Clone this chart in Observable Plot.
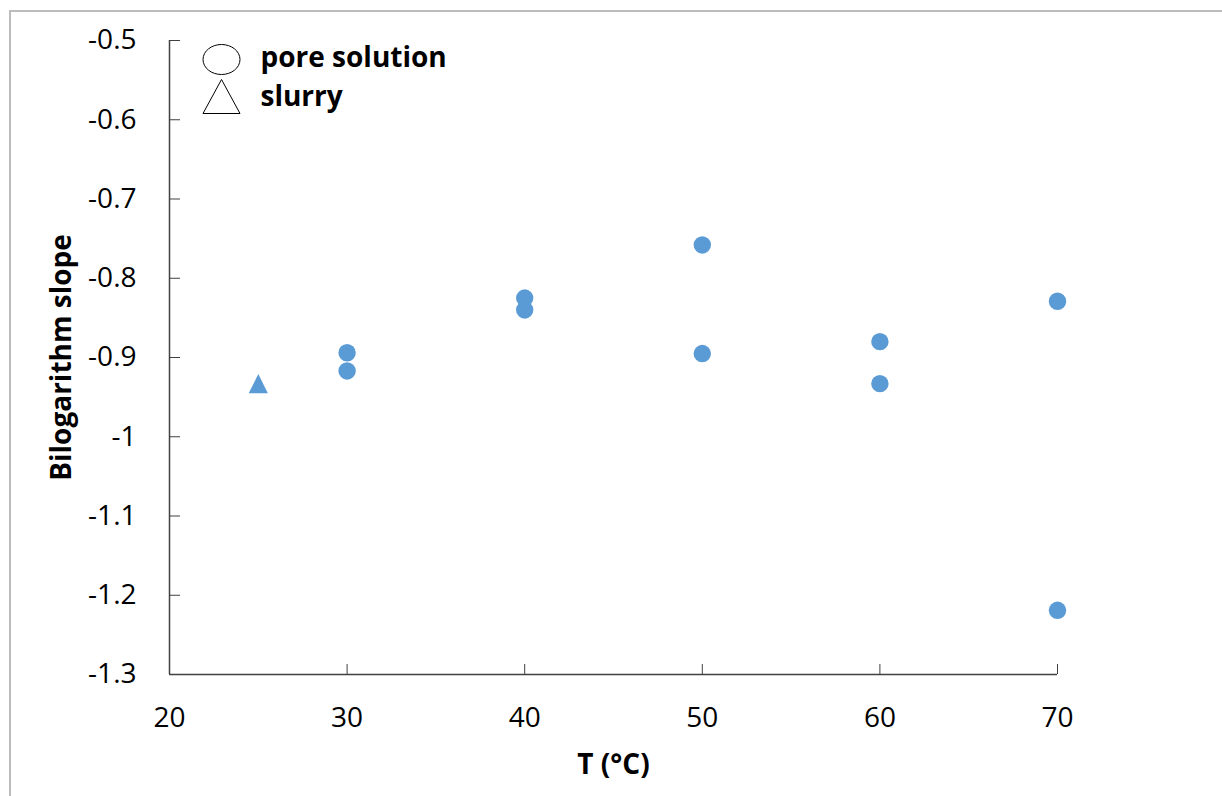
<!DOCTYPE html>
<html>
<head>
<meta charset="utf-8">
<script src="https://cdn.jsdelivr.net/npm/d3@7"></script>
<script src="https://cdn.jsdelivr.net/npm/@observablehq/plot@0.6"></script>
<style>
  html, body { margin: 0; padding: 0; background: #fff; }
  #wrap { position: relative; width: 1222px; height: 796px; overflow: hidden; }
  #border { position: absolute; left: 9px; top: 10px; width: 1300px; height: 900px;
            border: 2px solid #bcbcbc; box-sizing: border-box; pointer-events: none; }
</style>
</head>
<body>
<div id="wrap"><div id="border"></div></div>
<script>
// Temperature (°C) and bilogarithm slope of each measurement
const poreTemps = [30, 30, 40, 40, 50, 50, 60, 60, 70, 70];
const poreSlopes = [-0.894, -0.917, -0.825, -0.840, -0.758, -0.895, -0.880, -0.933, -0.829, -1.219];
const slurryTemps = [25];
const slurrySlopes = [-0.933];

// Axis ticks and text
const xTicks = [20, 30, 40, 50, 60, 70];
const yTicks = [-0.5, -0.6, -0.7, -0.8, -0.9, -1, -1.1, -1.2, -1.3];
const legendLabels = ["pore solution", "slurry"];
const xTitle = "T (°C)";
const yTitle = "Bilogarithm slope";

const pore = poreTemps.map((t, i) => ({t, s: poreSlopes[i]}));
const slurry = slurryTemps.map((t, i) => ({t, s: slurrySlopes[i]}));

// Triangle centred on its bounding box (w x h); size-driven when w is omitted
function triangle(w, h) {
  return {
    draw(ctx, size) {
      const r = Math.sqrt(size / Math.PI);
      const hw = w != null ? w / 2 : r, hh = h != null ? h / 2 : r;
      ctx.moveTo(0, -hh);
      ctx.lineTo(hw, hh);
      ctx.lineTo(-hw, hh);
      ctx.closePath();
    }
  };
}
// Ellipse built from four cubic curves
function ellipse(rx, ry) {
  const k = 0.5522847;
  return {
    draw(ctx) {
      ctx.moveTo(rx, 0);
      ctx.bezierCurveTo(rx, k * ry, k * rx, ry, 0, ry);
      ctx.bezierCurveTo(-k * rx, ry, -rx, k * ry, -rx, 0);
      ctx.bezierCurveTo(-rx, -k * ry, -k * rx, -ry, 0, -ry);
      ctx.bezierCurveTo(k * rx, -ry, rx, -k * ry, rx, 0);
      ctx.closePath();
    }
  };
}

const blue = "#5B9BD5";
const axisColor = "#404040";
const label = {text: d => d, fontWeight: "bold", fontSize: 28, lineAnchor: "middle"};

const chart = Plot.plot({
  width: 1222,
  height: 796,
  marginLeft: 169,
  marginRight: 165,
  marginTop: 40,
  marginBottom: 122,
  style: {fontFamily: "'Open Sans', sans-serif", fontSize: "28px", color: "#000", background: "transparent", overflow: "visible"},
  x: {domain: [20, 70]},
  y: {domain: [-1.3, -0.5]},
  marks: [
    Plot.axisY({ticks: yTicks, tickSize: -11, tickPadding: 44, tickFormat: d => String(d), stroke: axisColor, label: null}),
    Plot.axisX({ticks: xTicks, tickSize: -10, tickPadding: 43, tickFormat: d => String(d), stroke: axisColor, label: null}),
    Plot.ruleX([20], {y1: -1.3, y2: -0.5, stroke: axisColor, strokeWidth: 1.5}),
    Plot.ruleY([-1.3], {x1: 20, x2: 70, stroke: axisColor, strokeWidth: 1.5}),
    Plot.dot(pore, {x: "t", y: "s", r: 8.7, fill: blue}),
    Plot.dot(slurry, {x: "t", y: "s", r: 9.6, fill: blue, symbol: triangle()}),
    // legend
    Plot.dot([legendLabels[0]], {frameAnchor: "top-left", dx: 52, dy: 19, symbol: ellipse(18.5, 15), fill: "white", stroke: "black", strokeWidth: 1}),
    Plot.dot([legendLabels[1]], {frameAnchor: "top-left", dx: 52, dy: 56, symbol: triangle(37, 34), fill: "white", stroke: "black", strokeWidth: 1}),
    Plot.text([legendLabels[0]], {...label, frameAnchor: "top-left", dx: 91, dy: 18, textAnchor: "start"}),
    Plot.text([legendLabels[1]], {...label, frameAnchor: "top-left", dx: 91, dy: 57, textAnchor: "start"}),
    // axis titles
    Plot.text([xTitle], {...label, frameAnchor: "bottom", dy: 91, textAnchor: "middle"}),
    Plot.text([yTitle], {...label, frameAnchor: "left", dx: -107, rotate: -90, textAnchor: "middle"})
  ]
});
document.getElementById("wrap").prepend(chart);
</script>
</body>
</html>
